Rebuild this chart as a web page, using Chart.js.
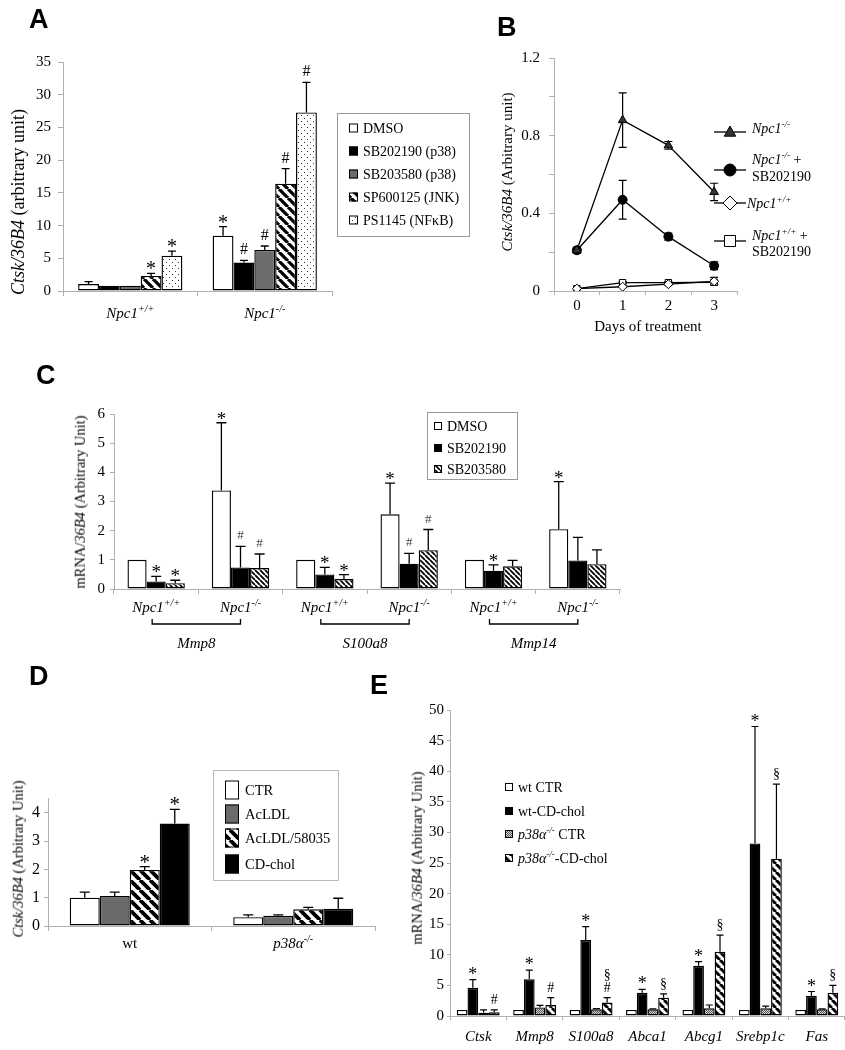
<!DOCTYPE html>
<html><head><meta charset="utf-8"><title>Figure</title>
<script src="https://cdn.jsdelivr.net/npm/chart.js@4.4.1/dist/chart.umd.min.js"></script>
<style>
html,body{margin:0;padding:0;background:#fff;}
#wrap{position:relative;width:845px;height:1050px;overflow:hidden;background:#fff;}
#wrap canvas{position:absolute;left:0;top:0;}
.lt{position:absolute;font-family:"Liberation Sans",Arial,sans-serif;font-weight:bold;font-size:27px;line-height:1;}
.yt{position:absolute;font-family:"Liberation Serif","Times New Roman",serif;white-space:nowrap;line-height:1;transform:translate(-50%,-50%) rotate(-90deg);}
.xt{position:absolute;font-family:"Liberation Serif","Times New Roman",serif;white-space:nowrap;line-height:1;transform:translate(-50%,-50%);}
</style></head><body>
<div id="wrap">
<canvas id="cA" width="845" height="1050"></canvas>
<canvas id="cB" width="845" height="1050"></canvas>
<canvas id="cC" width="845" height="1050"></canvas>
<canvas id="cD" width="845" height="1050"></canvas>
<canvas id="cE" width="845" height="1050"></canvas>
<div class="lt" style="left:29px;top:6px">A</div>
<div class="lt" style="left:497px;top:14px">B</div>
<div class="lt" style="left:36px;top:362px">C</div>
<div class="lt" style="left:29px;top:663px">D</div>
<div class="lt" style="left:370px;top:672px">E</div>
<div class="yt" style="left:18px;top:202px;font-size:18px"><i>Ctsk/36B4</i> (arbitrary unit)</div>
<div class="yt" style="left:507px;top:172px;font-size:15px"><i>Ctsk/36B4</i> (Arbitrary unit)</div>
<div class="xt" style="left:648px;top:326px;font-size:15px">Days of treatment</div>
<div class="yt" style="left:80px;top:502px;font-size:14.5px">mRNA/<i>36B4</i> (Arbitrary Unit)</div>
<div class="yt" style="left:18px;top:859px;font-size:14.5px"><i>Ctsk/36B4</i> (Arbitrary Unit)</div>
<div class="yt" style="left:417px;top:858px;font-size:14.5px">mRNA/<i>36B4</i> (Arbitrary Unit)</div>
</div>
<script>
const W = 845, H = 1050;
const SERIF = '"Liberation Serif","Times New Roman",serif';
const AX = '#b0b0b0';

/* ---------------- DATA ---------------- */
// Panel A
const catsA = ['Npc1+/+', 'Npc1-/-'];
const namesA = ['DMSO', 'SB202190 (p38)', 'SB203580 (p38)', 'SP600125 (JNK)', 'PS1145 (NFκB)'];
const dmsoA = [1.07, 8.45];
const sb202190A = [0.82, 4.34];
const sb203580A = [0.82, 6.28];
const sp600125A = [2.3, 16.4];
const ps1145A = [5.4, 27.3];
const errDmsoA = [0.36, 1.4];
const errSb202190A = [0, 0.35];
const errSb203580A = [0, 0.6];
const errSp600125A = [0.4, 2.3];
const errPs1145A = [0.7, 4.6];
const sigDmsoA = ['', '*'];
const sigSb202190A = ['', '#'];
const sigSb203580A = ['', '#'];
const sigSp600125A = ['*', '#'];
const sigPs1145A = ['*', '#'];
const yTicksA = ['0', '5', '10', '15', '20', '25', '30', '35'];

// Panel B
const daysB = ['0', '1', '2', '3'];
const namesB = ['Npc1-/-', 'Npc1-/- +\nSB202190', 'Npc1+/+', 'Npc1+/+ +\nSB202190'];
const koB = [0.21, 0.88, 0.75, 0.51];
const errKoB = [0.015, 0.14, 0.02, 0.045];
const koSbB = [0.21, 0.47, 0.28, 0.13];
const errKoSbB = [0.015, 0.1, 0.018, 0.02];
const wtB = [0.012, 0.022, 0.035, 0.05];
const errWtB = [0, 0.004, 0.005, 0.02];
const wtSbB = [0.012, 0.043, 0.043, 0.045];
const errWtSbB = [0, 0.005, 0.005, 0.01];
const yTicksB = ['0', '0.4', '0.8', '1.2'];

// Panel C
const catsC = ['Npc1+/+', 'Npc1-/-', 'Npc1+/+', 'Npc1-/-', 'Npc1+/+', 'Npc1-/-'];
const genesC = ['Mmp8', 'S100a8', 'Mmp14'];
const namesC = ['DMSO', 'SB202190', 'SB203580'];
const dmsoC = [1.0, 3.38, 1.0, 2.56, 1.0, 2.05];
const sb202190C = [0.26, 0.74, 0.5, 0.87, 0.63, 0.98];
const sb203580C = [0.2, 0.72, 0.34, 1.33, 0.78, 0.85];
const errDmsoC = [0, 2.32, 0, 1.07, 0, 1.63];
const errSb202190C = [0.17, 0.72, 0.24, 0.35, 0.2, 0.79];
const errSb203580C = [0.1, 0.48, 0.15, 0.71, 0.2, 0.49];
const sigDmsoC = ['', '*', '', '*', '', '*'];
const sigSb202190C = ['*', '#', '*', '#', '*', ''];
const sigSb203580C = ['*', '#', '*', '#', '', ''];
const yTicksC = ['0', '1', '2', '3', '4', '5', '6'];

// Panel D
const catsD = ['wt', 'p38α-/-'];
const namesD = ['CTR', 'AcLDL', 'AcLDL/58035', 'CD-chol'];
const ctrD = [1.0, 0.31];
const acldlD = [1.06, 0.36];
const acldl58035D = [1.98, 0.59];
const cdcholD = [3.62, 0.61];
const errCtrD = [0.2, 0.08];
const errAcldlD = [0.14, 0.03];
const errAcldl58035D = [0.12, 0.07];
const errCdcholD = [0.5, 0.37];
const sigAcldl58035D = ['*', ''];
const sigCdcholD = ['*', ''];
const yTicksD = ['0', '1', '2', '3', '4'];

// Panel E
const genesE = ['Ctsk', 'Mmp8', 'S100a8', 'Abca1', 'Abcg1', 'Srebp1c', 'Fas'];
const namesE = ['wt CTR', 'wt-CD-chol', 'p38α-/- CTR', 'p38α-/--CD-chol'];
const wtCtrE = [1, 1, 1, 1, 1, 1, 1];
const wtCdE = [4.6, 6.0, 12.4, 3.8, 8.2, 28.2, 3.3];
const koCtrE = [0.55, 1.4, 1.1, 1.1, 1.25, 1.25, 1.1];
const koCdE = [0.6, 1.8, 2.2, 3.0, 10.5, 25.7, 3.8];
const errWtCdE = [1.35, 1.5, 2.2, 0.55, 0.7, 19.1, 0.7];
const errKoCtrE = [0.45, 0.35, 0.1, 0.05, 0.55, 0.35, 0.05];
const errKoCdE = [0.4, 1.2, 0.8, 0.6, 2.7, 12.2, 1.2];
const sigWtCdE = ['*', '*', '*', '*', '*', '*', '*'];
const sigKoCdE = ['#', '#', '#§', '§', '§', '§', '§'];
const yTicksE = ['0', '5', '10', '15', '20', '25', '30', '35', '40', '45', '50'];

/* ---------------- HELPERS ---------------- */
function tile(s){ const c = document.createElement('canvas'); c.width = s; c.height = s; return c; }
function stripes(s, lw){
  const c = tile(s), x = c.getContext('2d');
  x.fillStyle = '#fff'; x.fillRect(0, 0, s, s);
  x.strokeStyle = '#000'; x.lineWidth = lw; x.beginPath();
  for (const k of [-s, 0, s]) { x.moveTo(k, 0); x.lineTo(k + s, s); }
  x.stroke();
  return x.createPattern(c, 'repeat');
}
function dots(){
  const s = 6, c = tile(s), x = c.getContext('2d');
  x.fillStyle = '#fff'; x.fillRect(0, 0, s, s);
  x.fillStyle = '#333'; x.fillRect(1, 1, 1, 1); x.fillRect(4, 4, 1, 1);
  return x.createPattern(c, 'repeat');
}
function checker(){
  const c = tile(2), x = c.getContext('2d');
  x.fillStyle = '#d5d5d5'; x.fillRect(0, 0, 2, 2);
  x.fillStyle = '#555'; x.fillRect(0, 0, 1, 1); x.fillRect(1, 1, 1, 1);
  return x.createPattern(c, 'repeat');
}
function rich(str){
  const m = str.match(/^(Npc1|p38α)([+-]\/[+-])(.*)$/);
  if (!m) return [{t: str}];
  const a = [{t: m[1], i: 1}, {t: m[2], i: 1, s: 1}];
  if (m[3]) a.push({t: m[3]});
  return a;
}
function fontOf(p, fs){ return (p.i ? 'italic ' : '') + (p.s ? Math.round(fs * 0.65) : fs) + 'px ' + SERIF; }
function drawRich(ctx, parts, x, y, fs, align){
  let w = 0;
  for (const p of parts) { ctx.font = fontOf(p, fs); w += ctx.measureText(p.t).width; }
  let cx = align === 'center' ? x - w / 2 : (align === 'right' ? x - w : x);
  ctx.textAlign = 'left'; ctx.textBaseline = 'alphabetic'; ctx.fillStyle = '#000';
  for (const p of parts) {
    ctx.font = fontOf(p, fs);
    ctx.fillText(p.t, cx, p.s ? y - fs * 0.4 : y);
    cx += ctx.measureText(p.t).width;
  }
}
function drawErr(chart, o){
  const ctx = chart.ctx, ys = chart.scales.y, cap = o.cap || 4;
  ctx.save();
  chart.data.datasets.forEach((ds, i) => {
    const meta = chart.getDatasetMeta(i);
    meta.data.forEach((el, j) => {
      const v = ds.data[j], e = ds.err ? ds.err[j] : 0, x = el.x;
      const y0 = ys.getPixelForValue(v), y1 = ys.getPixelForValue(v + e);
      if (e > 0) {
        ctx.strokeStyle = '#000'; ctx.lineWidth = o.lw || 1.3; ctx.beginPath();
        const yb = ds.twoSided ? ys.getPixelForValue(v - e) : y0;
        ctx.moveTo(x, yb); ctx.lineTo(x, y1);
        ctx.moveTo(x - cap, y1); ctx.lineTo(x + cap, y1);
        if (ds.twoSided) { ctx.moveTo(x - cap, yb); ctx.lineTo(x + cap, yb); }
        ctx.stroke();
      }
      const s = ds.sig ? ds.sig[j] : '';
      if (s) {
        let yb = Math.min(y0, y1);
        ctx.textAlign = 'center'; ctx.textBaseline = 'alphabetic';
        for (const ch of [...s]) {
          const f = o.sym[ch];
          ctx.font = f.font; ctx.fillStyle = f.color || '#000';
          ctx.fillText(ch, x, yb + f.dy);
          yb -= (f.step || 14);
        }
      }
    });
  });
  ctx.restore();
}
const errPlugin = {
  id: 'errbars',
  beforeDatasetsDraw(chart, a, o){ if (chart.config.type === 'line') drawErr(chart, o); },
  afterDatasetsDraw(chart, a, o){ if (chart.config.type !== 'line') drawErr(chart, o); }
};
function boxLegend(cfg){
  return { id: 'boxLegend', afterDraw(chart){
    const ctx = chart.ctx; ctx.save();
    if (cfg.box) {
      ctx.strokeStyle = cfg.boxColor || '#999'; ctx.lineWidth = 1;
      ctx.strokeRect(cfg.box[0] + 0.5, cfg.box[1] + 0.5, cfg.box[2] - cfg.box[0], cfg.box[3] - cfg.box[1]);
    }
    chart.data.datasets.forEach((ds, i) => {
      const y = cfg.rows[i];
      ctx.fillStyle = ds.backgroundColor;
      ctx.fillRect(cfg.sx, y - cfg.sh / 2, cfg.sw, cfg.sh);
      ctx.strokeStyle = '#000'; ctx.lineWidth = 1;
      ctx.strokeRect(cfg.sx + 0.5, y - cfg.sh / 2 + 0.5, cfg.sw - 1, cfg.sh - 1);
      drawRich(ctx, rich(ds.label), cfg.tx, y + cfg.fs * 0.33, cfg.fs, 'left');
    });
    ctx.restore();
  }};
}
function xLabels(cfg){
  return { id: 'xLabels', afterDraw(chart){
    const ctx = chart.ctx, xs = chart.scales.x, b = chart.chartArea.bottom;
    ctx.save();
    chart.data.labels.forEach((lb, i) => {
      drawRich(ctx, rich(lb), xs.getPixelForValue(i), b + cfg.dy + cfg.fs * 0.33, cfg.fs, 'center');
    });
    if (cfg.groups) {
      ctx.strokeStyle = '#000'; ctx.lineWidth = 1.3;
      cfg.groups.forEach((g, k) => {
        const x1 = xs.getPixelForValue(2 * k) - 4, x2 = xs.getPixelForValue(2 * k + 1);
        const yb = b + cfg.by;
        ctx.beginPath();
        ctx.moveTo(x1, yb - 5); ctx.lineTo(x1, yb); ctx.lineTo(x2, yb); ctx.lineTo(x2, yb - 5);
        ctx.stroke();
        drawRich(ctx, [{t: g, i: 1}], (x1 + x2) / 2, b + cfg.gy + cfg.fs * 0.33, cfg.fs, 'center');
      });
    }
    ctx.restore();
  }};
}
function yAxis(max, step, ticksArr, o){
  return {
    type: 'linear', min: 0, max: max,
    ticks: { stepSize: step, color: '#000', padding: o.pad, font: {family: SERIF, size: o.fs},
      callback: (v) => { const s = String(parseFloat(Number(v).toFixed(2))); return ticksArr.includes(s) ? s : ''; } },
    grid: { drawOnChartArea: false, drawTicks: true, tickLength: o.tl, color: AX, lineWidth: 1 },
    border: { color: AX, width: 1 },
    afterFit(s){ s.width = 40; }
  };
}
function xAxis(o){
  return {
    type: 'category', offset: true,
    grid: { offset: true, drawOnChartArea: false, drawTicks: true, tickLength: o.tl || 5, color: AX, lineWidth: 1 },
    border: { color: AX, width: 1 },
    ticks: o.ticks || { display: false },
    afterFit(s){ s.height = o.h || 30; }
  };
}
function pad(L, R, T, B, XH){ return { left: L - 40, right: W - R, top: T, bottom: H - B - (XH || 30) }; }
function bars(names, arrs, errs, sigs, fills, cp){
  return names.map((n, i) => ({
    label: n, data: arrs[i], err: errs[i], sig: sigs[i],
    backgroundColor: fills[i], borderColor: '#000', borderWidth: 1.4, borderSkipped: false,
    barPercentage: 1, categoryPercentage: cp
  }));
}
const base = { responsive: false, animation: false, events: [], devicePixelRatio: 1 };

/* ---------------- PANEL A ---------------- */
new Chart(document.getElementById('cA'), {
  type: 'bar',
  data: { labels: catsA, datasets: bars(namesA,
    [dmsoA, sb202190A, sb203580A, sp600125A, ps1145A],
    [errDmsoA, errSb202190A, errSb203580A, errSp600125A, errPs1145A],
    [sigDmsoA, sigSb202190A, sigSb203580A, sigSp600125A, sigPs1145A],
    ['#fff', '#000', '#6d6d6d', stripes(9, 3.2), dots()], 0.775) },
  options: Object.assign({}, base, {
    layout: { padding: pad(63, 332, 62, 291) },
    plugins: { legend: {display: false}, tooltip: {enabled: false},
      errbars: { cap: 4, lw: 1.3, sym: { '*': {font: '20px ' + SERIF, dy: 2}, '#': {font: '16px ' + SERIF, dy: -6} } } },
    scales: { x: xAxis({}), y: yAxis(35, 5, yTicksA, {fs: 15, pad: 7, tl: 5}) }
  }),
  plugins: [errPlugin, xLabels({dy: 22, fs: 15}),
    boxLegend({box: [337, 113, 469, 236], sx: 349, sw: 9, sh: 9, tx: 363, fs: 14, rows: [128, 151, 174, 197, 220]})]
});

/* ---------------- PANEL B ---------------- */
function marker(ctx, style, x, y, r, fill){
  ctx.beginPath();
  if (style === 'triangle') { ctx.moveTo(x, y - r); ctx.lineTo(x + r * 0.95, y + r * 0.7); ctx.lineTo(x - r * 0.95, y + r * 0.7); ctx.closePath(); }
  else if (style === 'circle') { ctx.arc(x, y, r, 0, Math.PI * 2); }
  else if (style === 'rectRot') { ctx.moveTo(x, y - r); ctx.lineTo(x + r, y); ctx.lineTo(x, y + r); ctx.lineTo(x - r, y); ctx.closePath(); }
  else { ctx.rect(x - r * 0.85, y - r * 0.85, r * 1.7, r * 1.7); }
  ctx.fillStyle = fill; ctx.fill(); ctx.strokeStyle = '#000'; ctx.lineWidth = 1; ctx.stroke();
}
const legendB = { id: 'legendB', afterDraw(chart){
  const ctx = chart.ctx; ctx.save();
  const rows = [{ly: 132, t: [128], tx: 752, r: 6}, {ly: 170, t: [159, 176], tx: 752, r: 6},
                {ly: 203, t: [203], tx: 747, r: 7}, {ly: 241, t: [235, 251], tx: 752, r: 6.5}];
  chart.data.datasets.forEach((ds, i) => {
    const rw = rows[i];
    ctx.strokeStyle = '#000'; ctx.lineWidth = 1.3; ctx.beginPath();
    ctx.moveTo(714, rw.ly); ctx.lineTo(746, rw.ly); ctx.stroke();
    marker(ctx, ds.pointStyle, 730, rw.ly, rw.r, ds.pointBackgroundColor);
    const lines = namesB[i].split('\n');
    lines.forEach((ln, k) => drawRich(ctx, rich(ln), rw.tx, rw.t[k] + 14 * 0.33, 14, 'left'));
  });
  ctx.restore();
}};
function lineSet(label, data, err, style, r, fill){
  return { label, data, err, twoSided: true, borderColor: '#000', borderWidth: 1.3, tension: 0,
    pointStyle: style, pointRadius: r, pointBackgroundColor: fill, pointBorderColor: '#000', pointBorderWidth: 1 };
}
new Chart(document.getElementById('cB'), {
  type: 'line',
  data: { labels: daysB, datasets: [
    lineSet(namesB[0], koB, errKoB, 'triangle', 5, '#333'),
    lineSet(namesB[1], koSbB, errKoSbB, 'circle', 4.5, '#000'),
    lineSet(namesB[2], wtB, errWtB, 'rectRot', 4.5, '#fff'),
    lineSet(namesB[3], wtSbB, errWtSbB, 'rect', 4.5, '#fff')
  ] },
  options: Object.assign({}, base, {
    layout: { padding: pad(554, 737, 58, 291) },
    plugins: { legend: {display: false}, tooltip: {enabled: false}, errbars: { cap: 4, lw: 1.2, sym: {} } },
    scales: {
      x: xAxis({tl: 4, ticks: {color: '#000', padding: 2, font: {family: SERIF, size: 15}}}),
      y: yAxis(1.2, 0.2, yTicksB, {fs: 15, pad: 9, tl: 5})
    }
  }),
  plugins: [errPlugin, legendB]
});

/* ---------------- PANEL C ---------------- */
new Chart(document.getElementById('cC'), {
  type: 'bar',
  data: { labels: catsC, datasets: bars(namesC,
    [dmsoC, sb202190C, sb203580C],
    [errDmsoC, errSb202190C, errSb203580C],
    [sigDmsoC, sigSb202190C, sigSb203580C],
    ['#fff', '#000', stripes(5, 1.8)], 0.68) },
  options: Object.assign({}, base, {
    layout: { padding: pad(114, 620, 414, 589) },
    plugins: { legend: {display: false}, tooltip: {enabled: false},
      errbars: { cap: 5, lw: 1.3, sym: { '*': {font: '19px ' + SERIF, dy: 2}, '#': {font: '13px ' + SERIF, dy: -7, color: '#444'} } } },
    scales: { x: xAxis({}), y: yAxis(6, 1, yTicksC, {fs: 15, pad: 5, tl: 4}) }
  }),
  plugins: [errPlugin, xLabels({dy: 18, fs: 15, groups: genesC, by: 35, gy: 54}),
    boxLegend({box: [427, 412, 517, 479], sx: 434, sw: 8, sh: 8, tx: 447, fs: 14, rows: [426, 448, 469]})]
});

/* ---------------- PANEL D ---------------- */
new Chart(document.getElementById('cD'), {
  type: 'bar',
  data: { labels: catsD, datasets: bars(namesD,
    [ctrD, acldlD, acldl58035D, cdcholD],
    [errCtrD, errAcldlD, errAcldl58035D, errCdcholD],
    [null, null, sigAcldl58035D, sigCdcholD],
    ['#fff', '#6b6b6b', stripes(10, 3.8), '#000'], 0.734) },
  options: Object.assign({}, base, {
    layout: { padding: pad(48, 375, 798.6, 926) },
    plugins: { legend: {display: false}, tooltip: {enabled: false},
      errbars: { cap: 5, lw: 1.3, sym: { '*': {font: '21px ' + SERIF, dy: 2} } } },
    scales: { x: xAxis({}), y: yAxis(4.5, 0.5, yTicksD, {fs: 16, pad: 4, tl: 4}) }
  }),
  plugins: [errPlugin, xLabels({dy: 17, fs: 15}),
    boxLegend({box: [213, 770, 338, 880], boxColor: '#bbb', sx: 225, sw: 14, sh: 19, tx: 245, fs: 14.5, rows: [790, 814, 838, 864]})]
});

/* ---------------- PANEL E ---------------- */
new Chart(document.getElementById('cE'), {
  type: 'bar',
  data: { labels: genesE, datasets: bars(namesE,
    [wtCtrE, wtCdE, koCtrE, koCdE],
    [null, errWtCdE, errKoCtrE, errKoCdE],
    [null, sigWtCdE, null, sigKoCdE],
    ['#fff', '#000', checker(), stripes(8, 3)], 0.76) },
  options: Object.assign({}, base, {
    layout: { padding: pad(450, 845, 710, 1016, 34) },
    plugins: { legend: {display: false}, tooltip: {enabled: false},
      errbars: { cap: 3.5, lw: 1.2, sym: { '*': {font: '18px ' + SERIF, dy: 0}, '#': {font: '14px ' + SERIF, dy: -6, step: 13}, '§': {font: '14px ' + SERIF, dy: -6} } } },
    scales: {
      x: xAxis({h: 34, tl: 4, ticks: {color: '#000', padding: 8, font: {family: SERIF, size: 15, style: 'italic'}}}),
      y: yAxis(50, 5, yTicksE, {fs: 15, pad: 3, tl: 3})
    }
  }),
  plugins: [errPlugin,
    boxLegend({sx: 505, sw: 8, sh: 8, tx: 518, fs: 14, rows: [787, 811, 834, 858]})]
});
</script>
</body></html>
